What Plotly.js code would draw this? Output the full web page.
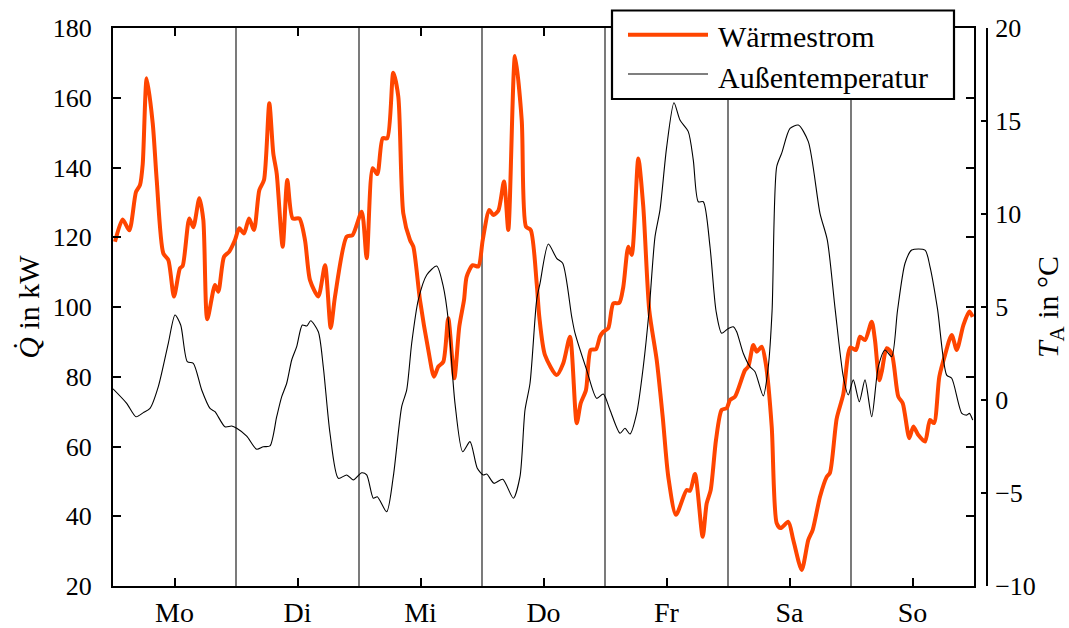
<!DOCTYPE html>
<html>
<head>
<meta charset="utf-8">
<script src="https://cdn.plot.ly/plotly-3.0.1.min.js"></script>
<style>
  html, body { margin: 0; padding: 0; background: #fff; }
  #chart { width: 1069px; height: 628px; }
</style>
</head>
<body>
<div id="chart"></div>
<script>
// Week of heat flow (kW) and outdoor temperature (°C), hourly axis 0..168 h
const dayNames = ['Mo', 'Di', 'Mi', 'Do', 'Fr', 'Sa', 'So'];

const heatHours = [0.39, 1.89, 3.18, 4.49, 5.27, 5.80, 6.58, 7.75, 8.53, 9.81, 10.79, 11.90, 13.07, 13.60,
  14.89, 15.67, 16.84, 17.62, 18.40, 19.90, 20.55, 21.66, 22.69, 23.80, 24.64, 25.56, 26.54, 27.51, 28.55,
  29.46, 30.50, 31.28, 31.94, 33.11, 34.01, 35.06, 36.35, 37.46, 38.44, 40.06, 41.37, 42.48, 43.32, 45.60,
  46.73, 48.53, 49.50, 50.67, 51.57, 52.62, 53.52, 54.69, 55.67, 56.64, 57.95, 58.60, 59.90, 61.52, 62.63,
  63.47, 64.45, 65.42, 66.60, 67.57, 68.49, 69.01, 70.19, 71.28, 72.14, 73.42, 74.20, 75.18, 76.29, 77.13,
  78.44, 79.75, 80.59, 81.50, 82.67, 83.18, 84.29, 86.57, 87.86, 89.17, 90.48, 91.26, 92.29, 93.21, 94.24,
  95.02, 95.67, 96.64, 97.62, 98.79, 99.57, 100.55, 101.21, 102.50, 103.47, 104.64, 106.09, 107.26, 108.35,
  109.85, 111.94, 112.59, 113.56, 115.06, 115.84, 116.62, 117.66, 118.77, 119.75, 120.39, 121.37, 123.32,
  123.96, 124.94, 125.60, 126.58, 127.41, 128.53, 129.50, 130.28, 131.77, 132.74, 134.38, 135.67, 136.53,
  137.95, 139.26, 139.90, 141.21, 142.50, 143.86, 144.97, 145.76, 146.73, 148.04, 148.68, 149.52, 149.99,
  150.97, 151.94, 153.23, 154.09, 155.38, 156.16, 157.13, 158.44, 159.41, 160.20, 161.23, 162.34, 163.65,
  164.63, 165.93, 167.08, 167.75];
const heatKW = [118.7, 125.1, 122.0, 133.0, 135.0, 141.0, 165.6, 152.7, 136.4, 115.4, 113.5, 103.0, 111.1, 111.8,
  125.4, 122.9, 131.2, 125.0, 96.5, 106.3, 104.4, 114.4, 115.9, 119.2, 122.6, 121.1, 125.4, 122.1, 133.5,
  136.4, 158.4, 144.0, 138.3, 117.3, 136.4, 125.4, 125.4, 119.2, 107.7, 103.0, 112.0, 94.0, 103.0, 120.2,
  120.6, 127.3, 114.0, 139.8, 138.1, 148.4, 148.4, 167.2, 160.3, 126.9, 119.2, 117.3, 102.0, 87.7, 80.0,
  82.9, 84.3, 96.8, 79.6, 94.4, 102.0, 108.7, 112.0, 111.6, 119.2, 127.8, 126.4, 127.6, 136.0, 122.1,
  172.0, 153.6, 123.0, 122.1, 106.8, 97.2, 86.2, 80.5, 83.9, 91.5, 66.7, 72.4, 76.2, 87.7, 87.9,
  91.5, 92.9, 93.9, 101.0, 101.2, 105.8, 117.3, 114.9, 142.6, 128.8, 99.0, 84.8, 68.5, 51.3,
  40.4, 47.5, 47.3, 52.1, 34.1, 43.7, 47.5, 61.9, 70.5, 71.0, 73.3, 74.3, 81.9,
  82.9, 89.1, 87.2, 88.6, 83.4, 65.7, 38.0, 36.6, 38.4, 33.2, 24.6, 33.2, 36.1,
  45.6, 51.3, 52.5, 68.0, 75.0, 88.4, 87.7, 91.5, 90.5, 95.8, 90.5, 79.0, 81.4,
  88.2, 86.7, 74.3, 72.4, 62.4, 65.7, 63.3, 61.4, 67.6, 66.7, 80.0, 86.2, 92.0,
  87.7, 94.8, 98.7, 97.2];

const tempHours = [0.00, 2.67, 4.49, 5.91, 7.22, 8.84, 10.79, 12.10, 13.21, 14.50, 15.67, 17.31, 18.93, 19.90,
  21.85, 23.16, 24.14, 26.09, 28.04, 29.33, 30.63, 31.94, 32.92, 33.89, 34.87, 35.84, 36.94, 37.80, 38.58,
  40.06, 41.03, 42.34, 43.96, 45.60, 46.89, 48.53, 49.50, 50.79, 51.57, 53.40, 54.69, 56.33, 57.31, 58.28,
  59.57, 61.21, 63.16, 64.45, 65.42, 66.73, 68.23, 69.66, 71.08, 72.25, 72.92, 74.34, 76.04, 78.11, 79.41,
  80.39, 81.37, 82.67, 83.32, 84.94, 86.57, 87.75, 89.50, 90.15, 92.43, 94.38, 95.67, 96.98, 98.93, 99.90,
  100.88, 102.18, 103.47, 104.60, 105.76, 106.73, 108.04, 109.46, 110.63, 112.25, 113.23, 114.20, 115.18,
  116.49, 117.66, 118.77, 120.06, 121.03, 121.69, 122.98, 124.29, 125.27, 126.89, 127.86, 128.60, 129.50,
  130.48, 132.10, 133.72, 135.67, 137.95, 139.38, 140.90, 142.50, 143.47, 144.45, 145.62, 146.73, 148.04,
  149.33, 150.63, 151.94, 153.07, 154.54, 155.84, 158.44, 159.41, 160.88, 162.67, 163.65, 165.63, 166.60,
  167.11, 167.75];
const tempC = [0.60, -0.18, -0.90, -0.68, -0.45, 0.72, 3.05, 4.57, 4.03, 2.06, 1.97, 0.54, -0.45, -0.63,
  -1.44, -1.40, -1.52, -1.94, -2.65, -2.51, -2.47, -0.90, 0.18, 0.90, 2.15, 2.87, 4.03, 3.98, 4.26,
  3.67, 1.79, -1.79, -4.21, -4.03, -4.30, -3.91, -4.03, -5.28, -5.20, -6.01, -4.12, -0.36, 0.54, 3.05,
  5.38, 6.72, 7.20, 6.09, 4.30, -0.18, -2.78, -2.24, -3.67, -4.03, -3.98, -4.48, -4.26, -5.28, -4.12,
  -0.54, 0.90, 5.38, 6.27, 8.39, 7.62, 7.35, 4.48, 3.59, 1.61, 0.09, 0.32, -0.54, -1.79, -1.52,
  -1.83, -0.72, 1.79, 4.80, 8.78, 10.22, 13.62, 15.98, 15.05, 14.43, 12.90, 10.66, 10.66,
  8.24, 4.80, 3.59, 3.85, 3.94, 3.67, 2.51, 1.79, 1.52, 0.22, 1.79, 4.80, 12.54,
  13.27, 14.60, 14.78, 13.89, 10.04, 8.60, 4.90, 1.25, 0.27, 1.08, -0.09, 1.08, -0.90,
  1.79, 2.69, 2.33, 4.80, 7.35, 8.06, 8.06, 7.17, 4.90, 1.34, 1.17, -0.72, -0.81,
  -0.72, -1.08];

const heatName = 'Wärmestrom';
const tempName = 'Außentemperatur';
const heatColor = '#ff4500';
const font = '"Liberation Serif", "DejaVu Serif", serif';

// page geometry
const W = 1069, H = 628;
const M = { l: 113, r: 82, t: 28, b: 42 };
const plotW = W - M.l - M.r;          // paper width
const plotH = H - M.t - M.b;          // paper height
const boxRight = 974;                 // right edge of the framed plot box
const px = p => (p - M.l) / plotW;
const py = p => (H - M.b - p) / plotH;

const hoursPerDay = 24;
const dayCenters = dayNames.map((_, i) => i * hoursPerDay + hoursPerDay / 2);
const dayBounds = dayNames.slice(1).map((_, i) => (i + 1) * hoursPerDay);

const traces = [
  {
    x: heatHours, y: heatKW, type: 'scatter', mode: 'lines', name: heatName,
    line: { color: heatColor, width: 4, shape: 'spline', smoothing: 0.7 },
    xaxis: 'x', yaxis: 'y', showlegend: false
  },
  {
    x: tempHours, y: tempC, type: 'scatter', mode: 'lines', name: tempName,
    line: { color: '#000', width: 1.1, shape: 'spline', smoothing: 0.7 },
    xaxis: 'x', yaxis: 'y2', showlegend: false
  }
];

const shapes = dayBounds.map(h => ({
  type: 'line', xref: 'x', yref: 'paper', x0: h, x1: h, y0: 0, y1: 1,
  line: { color: '#222', width: 1.2 }, layer: 'below'
}));

// legend box
shapes.push({
  type: 'rect', xref: 'paper', yref: 'paper',
  x0: px(612), x1: px(954), y0: py(99), y1: py(10.5),
  line: { color: '#000', width: 2.2 }, fillcolor: '#fff', layer: 'above'
});
shapes.push({
  type: 'line', xref: 'paper', yref: 'paper', x0: px(628), x1: px(708), y0: py(34.7), y1: py(34.7),
  line: { color: heatColor, width: 4 }, layer: 'above'
});
shapes.push({
  type: 'line', xref: 'paper', yref: 'paper', x0: px(628), x1: px(708), y0: py(74), y1: py(74),
  line: { color: '#000', width: 1.1 }, layer: 'above'
});

const annotations = [
  { text: heatName, x: px(716), y: py(37), xref: 'paper', yref: 'paper', xanchor: 'left', yanchor: 'middle',
    showarrow: false, font: { family: font, size: 30, color: '#000' } },
  { text: tempName, x: px(716), y: py(77), xref: 'paper', yref: 'paper', xanchor: 'left', yanchor: 'middle',
    showarrow: false, font: { family: font, size: 30, color: '#000' } }
];

const axisCommon = {
  showgrid: false, zeroline: false, showline: true, linecolor: '#000', linewidth: 2,
  tickcolor: '#000', tickwidth: 2, ticks: 'inside',
  tickfont: { family: font, size: 26, color: '#000' }
};

const layout = {
  width: W, height: H,
  margin: { l: M.l, r: M.r, t: M.t, b: M.b, pad: 0 },
  paper_bgcolor: '#fff', plot_bgcolor: '#fff',
  font: { family: font, size: 26, color: '#000' },
  showlegend: false,
  xaxis: Object.assign({}, axisCommon, {
    domain: [0, px(boxRight)], range: [0, 7 * hoursPerDay],
    tickmode: 'array', tickvals: dayCenters, ticktext: dayNames,
    ticklen: 8, mirror: 'ticks', ticklabelstandoff: 0,
    tickfont: { family: font, size: 28, color: '#000' }
  }),
  yaxis: Object.assign({}, axisCommon, {
    range: [20, 180], tickmode: 'linear', tick0: 20, dtick: 20,
    ticklen: 8, mirror: 'ticks', ticklabelstandoff: 14,
    title: { text: '<i>Q̇</i> in kW', font: { family: font, size: 30 }, standoff: 4 }
  }),
  yaxis2: Object.assign({}, axisCommon, {
    overlaying: 'y', side: 'right', anchor: 'free', position: 1,
    range: [-10, 20], tickmode: 'linear', tick0: -10, dtick: 5,
    ticklen: 5, ticklabelstandoff: 2,
    title: { text: '<i>T</i><sub>A</sub> in °C', font: { family: font, size: 30 }, standoff: 23 }
  }),
  shapes: shapes,
  annotations: annotations
};

Plotly.newPlot('chart', traces, layout, { staticPlot: true, displayModeBar: false });
</script>
</body>
</html>
